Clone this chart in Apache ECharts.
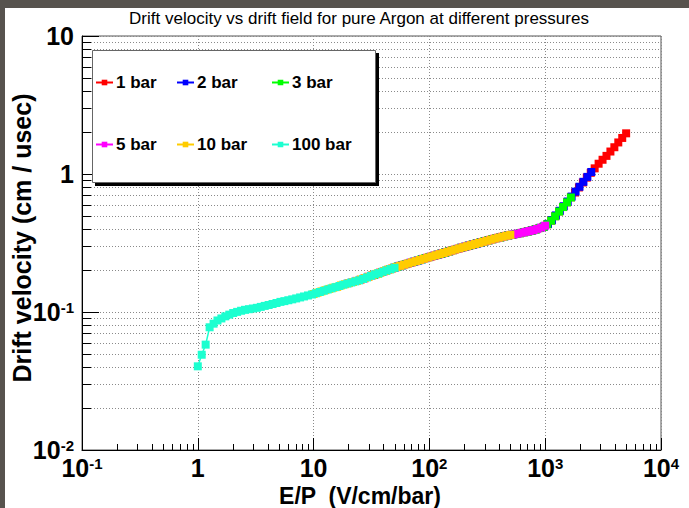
<!DOCTYPE html>
<html><head><meta charset="utf-8">
<script src="https://cdn.jsdelivr.net/npm/echarts@6/dist/echarts.min.js"></script>
<style>html,body{margin:0;padding:0;background:#fff}#c{width:689px;height:508px}</style>
</head><body><div id="c"></div>
<script>
// ---- data ----
const seriesNames = ['1 bar', '2 bar', '3 bar', '5 bar', '10 bar', '100 bar'];
const pressureBar = [1, 2, 3, 5, 10, 100];
// drift field E (V/cm) sampled for every pressure
const driftFieldE = [100,108.1,116.9,126.5,136.8,147.9,159.9,172.9,187.0,202.2,218.7,236.5,255.7,276.5,299.0,323.4,349.7,378.2,409.0,442.3,478.3,517.2,559.3,604.9,654.1,707.1,764.7,826.9,894.3,967.0,1045.7,1130.9,1222.9,1322.5,1430.1,1546.5,1672.4,1808.5,1955.8,2115.0,2287.1,2473.3,2674.6,2892.4,3127.8,3382.4,3657.7,3955.5,4277.5,4625.7,5000];
// drift velocity (cm/usec)
const v_1bar = [0.2500,0.2548,0.2596,0.2646,0.2698,0.2750,0.2806,0.2860,0.2915,0.2965,0.3022,0.3078,0.3134,0.3192,0.3250,0.3308,0.3368,0.3428,0.3475,0.3538,0.3590,0.3622,0.3673,0.3724,0.3782,0.3837,0.3895,0.3968,0.4058,0.4140,0.4330,0.4595,0.4950,0.5360,0.5780,0.6245,0.6780,0.7345,0.7990,0.8680,0.9410,1.0200,1.0990,1.1870,1.2680,1.3530,1.4550,1.5630,1.6930,1.8250,1.9710];
const v_2bar = [0.2093,0.2140,0.2180,0.2227,0.2272,0.2317,0.2362,0.2410,0.2458,0.2507,0.2555,0.2603,0.2654,0.2705,0.2758,0.2812,0.2867,0.2922,0.2975,0.3030,0.3085,0.3140,0.3198,0.3258,0.3315,0.3376,0.3432,0.3483,0.3545,0.3598,0.3630,0.3680,0.3733,0.3790,0.3845,0.3905,0.3980,0.4070,0.4165,0.4350,0.4635,0.5010,0.5415,0.5840,0.6320,0.6860,0.7450,0.8086,0.8780,0.9530,1.0345];
const v_3bar = [0.1855,0.1900,0.1950,0.1995,0.2040,0.2090,0.2135,0.2175,0.2220,0.2265,0.2310,0.2355,0.2405,0.2455,0.2498,0.2545,0.2595,0.2645,0.2697,0.2750,0.2806,0.2862,0.2918,0.2965,0.3022,0.3077,0.3133,0.3190,0.3250,0.3305,0.3365,0.3425,0.3470,0.3535,0.3587,0.3620,0.3672,0.3722,0.3780,0.3835,0.3892,0.3965,0.4055,0.4135,0.4320,0.4588,0.4936,0.5340,0.5760,0.6227,0.6757];
const v_5bar = [0.1620,0.1650,0.1680,0.1710,0.1750,0.1800,0.1840,0.1880,0.1930,0.1970,0.2020,0.2060,0.2110,0.2160,0.2195,0.2240,0.2285,0.2330,0.2375,0.2425,0.2472,0.2520,0.2568,0.2620,0.2670,0.2720,0.2775,0.2830,0.2880,0.2940,0.2990,0.3050,0.3100,0.3157,0.3215,0.3273,0.3332,0.3393,0.3450,0.3505,0.3560,0.3615,0.3644,0.3696,0.3750,0.3806,0.3863,0.3920,0.4005,0.4089,0.4224];
const v_10bar = [0.1350,0.1380,0.1410,0.1440,0.1470,0.1500,0.1520,0.1560,0.1590,0.1620,0.1650,0.1680,0.1720,0.1760,0.1800,0.1850,0.1890,0.1930,0.1980,0.2030,0.2070,0.2120,0.2160,0.2202,0.2246,0.2291,0.2336,0.2383,0.2430,0.2479,0.2527,0.2576,0.2626,0.2676,0.2728,0.2781,0.2834,0.2889,0.2945,0.2998,0.3053,0.3108,0.3165,0.3222,0.3281,0.3340,0.3401,0.3458,0.3512,0.3568,0.3620];
const v_100bar = [0.0404,0.0490,0.0580,0.0775,0.0823,0.0868,0.0898,0.0930,0.0957,0.0983,0.1002,0.1021,0.1037,0.1048,0.1060,0.1072,0.1089,0.1107,0.1124,0.1143,0.1162,0.1184,0.1199,0.1217,0.1235,0.1254,0.1275,0.1296,0.1318,0.1339,0.1367,0.1396,0.1425,0.1456,0.1484,0.1514,0.1543,0.1577,0.1607,0.1636,0.1666,0.1696,0.1736,0.1781,0.1828,0.1876,0.1911,0.1957,0.2001,0.2046,0.2093];
const velocities = [v_1bar, v_2bar, v_3bar, v_5bar, v_10bar, v_100bar];
const colors = ['#ff0000', '#0000ff', '#00ff00', '#ff00ff', '#ffcc00', '#1cffd0'];
// axes
const xRange = [0.1, 10000];
const yRange = [0.01, 10];
const xMinorTicks = [0.2,0.3,0.4,0.5,0.6,0.7,0.8,0.9,2,3,4,5,6,7,8,9,20,30,40,50,60,70,80,90,200,300,400,500,600,700,800,900,2000,3000,4000,5000,6000,7000,8000,9000];
const yMinorTicks = [0.02,0.03,0.04,0.05,0.06,0.07,0.08,0.09,0.2,0.3,0.4,0.5,0.6,0.7,0.8,0.9,2,3,4,5,6,7,8,9];

const FONT = '"Liberation Sans", Arial, Helvetica, sans-serif';
const GRID = {left: 82, top: 36, width: 579, height: 414};

function decadeLabel(v) {
  const e = Math.round(Math.log10(v));
  if (e === 0) return '{b|1}';
  if (e === 1) return '{b|10}';
  return '{b|10}{s|' + e + '}';
}
const labelRich = {
  b: {fontSize: 25, fontWeight: 'bold', fontFamily: FONT, color: '#000', lineHeight: 24},
  s: {fontSize: 15, fontWeight: 'bold', fontFamily: FONT, color: '#000', lineHeight: 13, verticalAlign: 'top'}
};

const dataSeries = seriesNames.map((name, i) => ({
  name: name,
  type: 'line',
  data: driftFieldE.map((E, k) => [E / pressureBar[i], velocities[i][k]]),
  symbol: 'rect',
  symbolSize: 8,
  showSymbol: true,
  showAllSymbol: true,
  color: colors[i],
  itemStyle: {color: colors[i]},
  lineStyle: {color: colors[i], width: 1.5},
  emphasis: {disabled: true},
  silent: true,
  z: 3,
  animation: false
}));

const yMinorSeries = {
  type: 'custom',
  silent: true,
  z: 1,
  data: yMinorTicks.map(v => [xRange[0], v]),
  renderItem: function (params, api) {
    const cs = params.coordSys;
    const p = api.coord([api.value(0), api.value(1)]);
    const y = Math.round(p[1]) + 0.5;
    return {type: 'group', children: [
      {type: 'line', shape: {x1: cs.x, y1: y, x2: cs.x + cs.width, y2: y}, style: {stroke: '#8a8a8a', lineWidth: 1, lineDash: [1, 2]}},
      {type: 'line', shape: {x1: cs.x, y1: y, x2: cs.x + 9, y2: y}, style: {stroke: '#000', lineWidth: 1}}
    ]};
  }
};
const xMinorSeries = {
  type: 'custom',
  silent: true,
  z: 1,
  data: xMinorTicks.map(v => [v, yRange[0]]),
  renderItem: function (params, api) {
    const cs = params.coordSys;
    const p = api.coord([api.value(0), api.value(1)]);
    const x = Math.round(p[0]) + 0.5;
    const yb = cs.y + cs.height;
    return {type: 'line', shape: {x1: x, y1: yb, x2: x, y2: yb - 6}, style: {stroke: '#000', lineWidth: 1}};
  }
};

const legendPos = [[90, 69], [171, 69], [266, 69], [90, 131], [171, 131], [266, 131]];
const legends = seriesNames.map((name, i) => ({
  data: [name],
  left: legendPos[i][0],
  top: legendPos[i][1],
  orient: 'horizontal',
  itemWidth: 17,
  itemHeight: 7,
  itemGap: 0,
  selectedMode: false,
  z: 20,
  textStyle: {fontFamily: FONT, fontWeight: 'bold', fontSize: 17, color: '#000', padding: [0, 0, 0, -2]}
}));

const option = {
  animation: false,
  backgroundColor: '#ffffff',
  grid: Object.assign({show: true, borderColor: '#555', borderWidth: 1, backgroundColor: 'transparent', z: 0}, GRID),
  legend: legends,
  xAxis: {
    type: 'log', logBase: 10, min: xRange[0], max: xRange[1], splitNumber: 5,
    axisLine: {show: true, lineStyle: {color: '#000', width: 1}},
    axisTick: {show: true, inside: true, length: 12, lineStyle: {color: '#000'}},
    minorTick: {show: false},
    splitLine: {show: true, lineStyle: {color: '#8a8a8a', width: 1, type: [1, 2]}},
    axisLabel: {formatter: decadeLabel, rich: labelRich, margin: 6, showMinLabel: true, showMaxLabel: true, hideOverlap: false}
  },
  yAxis: {
    type: 'log', logBase: 10, min: yRange[0], max: yRange[1], splitNumber: 3,
    axisLine: {show: true, lineStyle: {color: '#000', width: 1}},
    axisTick: {show: true, inside: true, length: 17, lineStyle: {color: '#000'}},
    minorTick: {show: false},
    splitLine: {show: true, lineStyle: {color: '#8a8a8a', width: 1, type: [1, 2]}},
    axisLabel: {formatter: decadeLabel, rich: labelRich, margin: 8, showMinLabel: true, showMaxLabel: true, hideOverlap: false}
  },
  graphic: {elements: [
    {type: 'rect', z: 100, silent: true, shape: {x: 0, y: 0, width: 5, height: 508}, style: {fill: '#57534e'}},
    {type: 'rect', z: 100, silent: true, shape: {x: 0, y: 0, width: 689, height: 8}, style: {fill: '#57534e'}},
    {type: 'rect', z: 10, silent: true, shape: {x: 95, y: 53, width: 284, height: 133}, style: {fill: '#000'}},
    {type: 'rect', z: 11, silent: true, shape: {x: 92.5, y: 50.5, width: 283, height: 132}, style: {fill: '#fff', stroke: '#666', lineWidth: 1}},
    {type: 'text', z: 12, silent: true, x: 359, y: 18,
      style: {text: 'Drift velocity vs drift field for pure Argon at different pressures', fill: '#000',
        font: '17px ' + FONT, textAlign: 'center', align: 'center', textVerticalAlign: 'middle', verticalAlign: 'middle'}},
    {type: 'text', z: 12, silent: true, x: 360, y: 495.5,
      style: {text: 'E/P  (V/cm/bar)', fill: '#000',
        font: 'bold 23px ' + FONT, textAlign: 'center', align: 'center', textVerticalAlign: 'middle', verticalAlign: 'middle'}},
    {type: 'text', z: 12, silent: true, x: 22, y: 238, rotation: Math.PI / 2,
      style: {text: 'Drift velocity (cm / usec)', fill: '#000',
        font: 'bold 25px ' + FONT, textAlign: 'center', align: 'center', textVerticalAlign: 'middle', verticalAlign: 'middle'}}
  ]},
  series: [yMinorSeries, xMinorSeries].concat(dataSeries)
};

const chart = echarts.init(document.getElementById('c'), null, {renderer: 'svg', width: 689, height: 508});
chart.setOption(option);
</script>
</body></html>
